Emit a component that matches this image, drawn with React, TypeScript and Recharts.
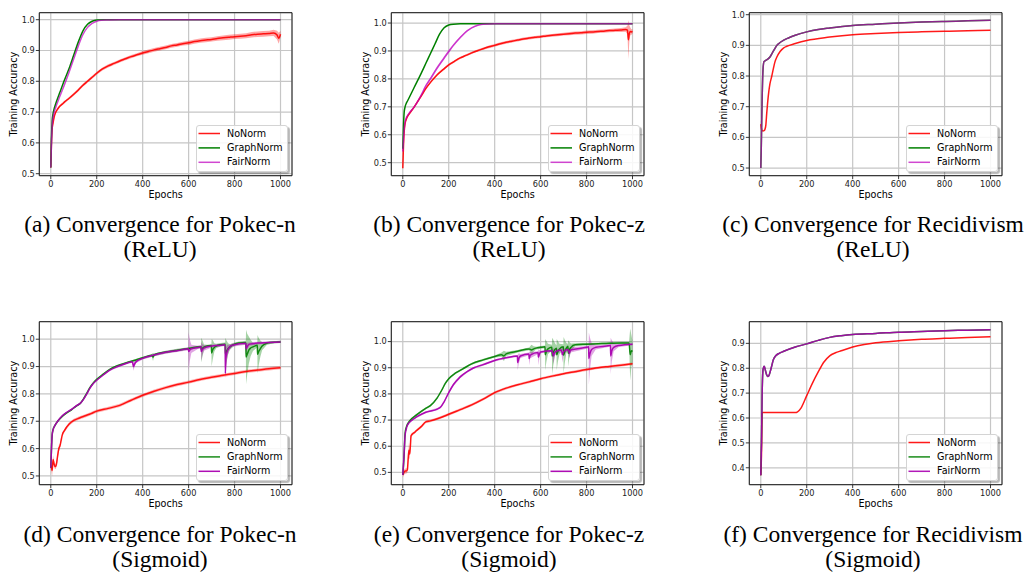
import React from 'react';
import { ComposedChart, Line, Area, XAxis, YAxis, CartesianGrid, ReferenceArea, Legend, Label } from 'recharts';

// ---------------- data ----------------
const xTicks = [0, 200, 400, 600, 800, 1000];
const yTicksHi = [0.5, 0.6, 0.7, 0.8, 0.9, 1.0];
const yTicksLo = [0.4, 0.5, 0.6, 0.7, 0.8, 0.9];
const seriesNames = ['NoNorm', 'GraphNorm', 'FairNorm'];
const captionLine1 = [
  '(a) Convergence for Pokec-n',
  '(b) Convergence for Pokec-z',
  '(c) Convergence for Recidivism',
  '(d) Convergence for Pokec-n',
  '(e) Convergence for Pokec-z',
  '(f) Convergence for Recidivism',
];
const captionLine2 = ['(ReLU)', '(ReLU)', '(ReLU)', '(Sigmoid)', '(Sigmoid)', '(Sigmoid)'];

// (a) Pokec-n ReLU
const aNoX = [0, 3, 6, 10, 15, 20, 30, 40, 50, 60, 80, 100, 120, 140, 160, 180, 200, 225, 250, 275, 300, 325, 350, 375, 400, 425, 450, 475, 500, 525, 550, 575, 600, 625, 650, 675, 700, 725, 750, 775, 800, 825, 850, 875, 900, 925, 950, 970, 985, 992, 1000];
const aNoY = [0.52, 0.6, 0.645, 0.665, 0.685, 0.697, 0.71, 0.72, 0.726, 0.733, 0.745, 0.758, 0.772, 0.787, 0.8, 0.813, 0.826, 0.84, 0.85, 0.858, 0.866, 0.873, 0.88, 0.886, 0.892, 0.897, 0.902, 0.906, 0.91, 0.915, 0.918, 0.922, 0.925, 0.929, 0.932, 0.934, 0.936, 0.939, 0.941, 0.943, 0.945, 0.946, 0.948, 0.951, 0.953, 0.954, 0.955, 0.957, 0.95, 0.94, 0.953];
const aNoW = [0.004, 0.006, 0.006, 0.005, 0.004, 0.004, 0.004, 0.004, 0.004, 0.004, 0.004, 0.005, 0.005, 0.005, 0.005, 0.005, 0.005, 0.005, 0.005, 0.005, 0.005, 0.005, 0.005, 0.005, 0.006, 0.006, 0.006, 0.006, 0.006, 0.006, 0.006, 0.006, 0.007, 0.007, 0.007, 0.007, 0.007, 0.007, 0.008, 0.008, 0.008, 0.008, 0.008, 0.009, 0.009, 0.009, 0.009, 0.01, 0.014, 0.018, 0.01];
const aGraphX = [0, 3, 6, 10, 15, 20, 40, 60, 80, 100, 120, 140, 160, 180, 200, 230, 300, 500, 700, 1000];
const aGraphY = [0.52, 0.62, 0.67, 0.695, 0.712, 0.724, 0.765, 0.805, 0.842, 0.885, 0.928, 0.964, 0.985, 0.995, 0.999, 1.0, 1.0, 1.0, 1.0, 1.0];
const aFairX = [0, 3, 6, 10, 15, 20, 40, 60, 80, 100, 120, 140, 160, 180, 200, 220, 250, 300, 500, 700, 1000];
const aFairY = [0.52, 0.6, 0.655, 0.683, 0.7, 0.712, 0.752, 0.79, 0.83, 0.873, 0.915, 0.952, 0.975, 0.988, 0.995, 0.998, 0.999, 1.0, 1.0, 1.0, 1.0];

// (b) Pokec-z ReLU
const bNoX = [0, 3, 6, 10, 15, 20, 30, 50, 80, 100, 125, 150, 175, 200, 225, 250, 275, 300, 325, 350, 375, 400, 425, 450, 475, 500, 525, 550, 575, 600, 625, 650, 675, 700, 725, 750, 775, 800, 825, 850, 875, 900, 925, 950, 970, 978, 982, 986, 990, 995, 1000];
const bNoY = [0.48, 0.56, 0.61, 0.64, 0.655, 0.665, 0.677, 0.7, 0.738, 0.765, 0.792, 0.815, 0.833, 0.85, 0.863, 0.875, 0.884, 0.893, 0.901, 0.908, 0.915, 0.92, 0.926, 0.931, 0.935, 0.939, 0.943, 0.946, 0.949, 0.951, 0.954, 0.956, 0.958, 0.96, 0.962, 0.964, 0.965, 0.967, 0.968, 0.97, 0.971, 0.973, 0.974, 0.975, 0.977, 0.975, 0.94, 0.962, 0.97, 0.968, 0.97];
const bNoW = [0.006, 0.006, 0.006, 0.005, 0.004, 0.004, 0.004, 0.004, 0.004, 0.004, 0.004, 0.004, 0.004, 0.004, 0.004, 0.004, 0.004, 0.004, 0.004, 0.004, 0.005, 0.005, 0.005, 0.005, 0.005, 0.005, 0.005, 0.005, 0.005, 0.005, 0.005, 0.005, 0.005, 0.005, 0.006, 0.006, 0.006, 0.006, 0.006, 0.006, 0.006, 0.006, 0.006, 0.007, 0.008, 0.015, 0.07, 0.03, 0.015, 0.01, 0.008];
const bGraphX = [0, 3, 6, 10, 15, 20, 50, 80, 100, 120, 140, 160, 180, 200, 220, 250, 400, 600, 800, 1000];
const bGraphY = [0.55, 0.63, 0.68, 0.7, 0.712, 0.72, 0.77, 0.82, 0.855, 0.89, 0.925, 0.96, 0.983, 0.993, 0.996, 0.997, 0.997, 0.997, 0.997, 0.997];
const bFairX = [0, 3, 6, 10, 15, 20, 30, 50, 80, 100, 120, 150, 180, 200, 220, 250, 280, 300, 330, 350, 400, 600, 800, 1000];
const bFairY = [0.54, 0.58, 0.62, 0.645, 0.66, 0.668, 0.68, 0.7, 0.742, 0.775, 0.8, 0.84, 0.875, 0.898, 0.92, 0.948, 0.972, 0.983, 0.993, 0.996, 0.997, 0.997, 0.997, 0.997];
const bFairW = [0.002, 0.002, 0.002, 0.002, 0.002, 0.002, 0.002, 0.003, 0.004, 0.005, 0.006, 0.006, 0.006, 0.006, 0.005, 0.004, 0.003, 0.002, 0.002, 0.001, 0.001, 0.001, 0.001, 0.001];

// (c) Recidivism ReLU
const cNoX = [0, 3, 6, 10, 14, 18, 22, 26, 30, 35, 40, 48, 55, 62, 70, 84, 100, 113, 150, 200, 300, 400, 500, 600, 700, 800, 900, 1000];
const cNoY = [0.643, 0.628, 0.622, 0.621, 0.622, 0.626, 0.64, 0.68, 0.715, 0.75, 0.775, 0.8, 0.825, 0.847, 0.862, 0.88, 0.892, 0.897, 0.906, 0.916, 0.927, 0.935, 0.939, 0.942, 0.944, 0.946, 0.948, 0.949];
const cGraphX = [0, 2, 4, 6, 8, 10, 14, 20, 30, 40, 50, 60, 70, 80, 100, 120, 150, 200, 250, 300, 400, 500, 600, 700, 800, 900, 1000];
const cGraphY = [0.5, 0.56, 0.65, 0.73, 0.79, 0.825, 0.847, 0.85, 0.855, 0.862, 0.875, 0.888, 0.9, 0.907, 0.917, 0.924, 0.933, 0.944, 0.952, 0.957, 0.965, 0.969, 0.973, 0.976, 0.978, 0.98, 0.982];
const cFairX = [0, 2, 4, 6, 8, 10, 14, 20, 30, 40, 50, 60, 70, 80, 100, 120, 150, 200, 250, 300, 400, 500, 600, 700, 800, 900, 1000];
const cFairY = [0.5, 0.56, 0.65, 0.73, 0.79, 0.825, 0.847, 0.85, 0.855, 0.862, 0.875, 0.888, 0.9, 0.907, 0.917, 0.924, 0.933, 0.944, 0.952, 0.957, 0.965, 0.969, 0.973, 0.976, 0.978, 0.98, 0.982];

// (d) Pokec-n Sigmoid
const dNoX = [0, 3, 6, 10, 14, 18, 22, 26, 30, 35, 40, 45, 50, 60, 80, 100, 125, 150, 175, 200, 250, 300, 350, 400, 450, 500, 550, 600, 650, 700, 750, 800, 850, 900, 950, 1000];
const dNoY = [0.537, 0.53, 0.52, 0.56, 0.545, 0.535, 0.535, 0.55, 0.575, 0.6, 0.61, 0.63, 0.65, 0.667, 0.69, 0.703, 0.712, 0.72, 0.728, 0.737, 0.747, 0.758, 0.777, 0.795, 0.81, 0.823, 0.834, 0.843, 0.853, 0.861, 0.868, 0.875, 0.882, 0.887, 0.892, 0.896];
const dNoW = [0.015, 0.015, 0.02, 0.015, 0.012, 0.01, 0.01, 0.01, 0.015, 0.012, 0.008, 0.007, 0.006, 0.006, 0.006, 0.006, 0.006, 0.006, 0.006, 0.006, 0.006, 0.006, 0.006, 0.006, 0.006, 0.006, 0.006, 0.006, 0.006, 0.006, 0.006, 0.006, 0.006, 0.006, 0.006, 0.006];
const dGraphX = [0, 3, 6, 10, 17, 30, 50, 68, 90, 112, 130, 141, 155, 170, 185, 200, 230, 257, 290, 330, 370, 400, 440, 445, 450, 500, 550, 600, 650, 654, 655, 660, 667, 680, 699, 700, 705, 712, 720, 740, 759, 760, 765, 772, 780, 800, 820, 849, 850, 855, 862, 870, 880, 899, 900, 905, 912, 920, 940, 960, 980, 1000];
const dGraphY = [0.53, 0.6, 0.65, 0.67, 0.683, 0.7, 0.718, 0.73, 0.742, 0.756, 0.767, 0.78, 0.8, 0.823, 0.84, 0.853, 0.873, 0.89, 0.903, 0.914, 0.924, 0.932, 0.941, 0.935, 0.943, 0.953, 0.96, 0.966, 0.972, 0.972, 0.96, 0.966, 0.971, 0.975, 0.977, 0.95, 0.962, 0.97, 0.975, 0.98, 0.982, 0.945, 0.955, 0.965, 0.972, 0.982, 0.986, 0.988, 0.935, 0.945, 0.96, 0.968, 0.972, 0.978, 0.945, 0.955, 0.965, 0.975, 0.985, 0.988, 0.989, 0.99];
const dGraphW = [0.003, 0.004, 0.004, 0.003, 0.003, 0.003, 0.003, 0.003, 0.003, 0.003, 0.003, 0.003, 0.003, 0.003, 0.003, 0.003, 0.003, 0.003, 0.004, 0.004, 0.004, 0.004, 0.005, 0.015, 0.005, 0.005, 0.005, 0.005, 0.005, 0.005, 0.045, 0.03, 0.01, 0.005, 0.005, 0.05, 0.035, 0.015, 0.008, 0.006, 0.006, 0.06, 0.04, 0.02, 0.01, 0.006, 0.006, 0.006, 0.1, 0.075, 0.05, 0.03, 0.015, 0.008, 0.07, 0.05, 0.03, 0.015, 0.006, 0.005, 0.004, 0.004];
const dFairX = [0, 3, 6, 10, 17, 30, 50, 68, 90, 112, 130, 141, 155, 170, 185, 200, 230, 257, 290, 330, 355, 360, 365, 372, 400, 450, 500, 550, 599, 600, 605, 612, 640, 654, 655, 660, 667, 700, 740, 759, 760, 762, 768, 775, 790, 849, 850, 856, 865, 900, 950, 1000];
const dFairY = [0.53, 0.6, 0.65, 0.668, 0.683, 0.7, 0.72, 0.732, 0.743, 0.757, 0.767, 0.778, 0.797, 0.82, 0.838, 0.85, 0.87, 0.887, 0.9, 0.912, 0.918, 0.9, 0.91, 0.918, 0.93, 0.942, 0.952, 0.958, 0.965, 0.955, 0.96, 0.965, 0.97, 0.972, 0.955, 0.962, 0.968, 0.975, 0.978, 0.98, 0.875, 0.93, 0.955, 0.968, 0.978, 0.985, 0.965, 0.975, 0.982, 0.986, 0.988, 0.99];
const dFairW = [0.003, 0.004, 0.004, 0.003, 0.003, 0.003, 0.003, 0.003, 0.003, 0.003, 0.003, 0.003, 0.003, 0.003, 0.003, 0.003, 0.003, 0.003, 0.004, 0.004, 0.004, 0.015, 0.01, 0.005, 0.004, 0.004, 0.005, 0.005, 0.005, 0.07, 0.04, 0.015, 0.006, 0.006, 0.035, 0.02, 0.01, 0.005, 0.005, 0.005, 0.02, 0.04, 0.025, 0.012, 0.006, 0.005, 0.02, 0.012, 0.006, 0.005, 0.004, 0.004];

// (e) Pokec-z Sigmoid
const eNoX = [0, 5, 10, 15, 20, 24, 27, 30, 33, 36, 40, 50, 60, 80, 100, 120, 150, 200, 250, 300, 350, 400, 450, 500, 550, 600, 650, 700, 750, 800, 850, 900, 950, 1000];
const eNoY = [0.49, 0.5, 0.505, 0.505, 0.51, 0.56, 0.585, 0.57, 0.6, 0.64, 0.645, 0.652, 0.66, 0.675, 0.693, 0.697, 0.705, 0.722, 0.74, 0.758, 0.78, 0.805, 0.822, 0.835, 0.846, 0.858, 0.868, 0.877, 0.885, 0.893, 0.9, 0.905, 0.91, 0.915];
const eNoW = [0.01, 0.01, 0.01, 0.01, 0.01, 0.02, 0.03, 0.02, 0.015, 0.008, 0.006, 0.005, 0.005, 0.005, 0.005, 0.005, 0.005, 0.005, 0.005, 0.005, 0.005, 0.005, 0.005, 0.005, 0.005, 0.005, 0.005, 0.005, 0.005, 0.005, 0.005, 0.005, 0.005, 0.005];
const eGraphX = [0, 5, 10, 15, 30, 60, 100, 120, 150, 170, 185, 200, 230, 260, 300, 350, 400, 430, 440, 450, 500, 550, 560, 570, 580, 600, 619, 620, 625, 632, 649, 650, 655, 662, 669, 670, 675, 682, 699, 700, 705, 712, 719, 720, 725, 732, 750, 800, 850, 900, 950, 985, 990, 995, 1000];
const eGraphY = [0.49, 0.55, 0.65, 0.672, 0.697, 0.72, 0.745, 0.755, 0.785, 0.815, 0.84, 0.858, 0.88, 0.895, 0.915, 0.93, 0.943, 0.95, 0.945, 0.953, 0.963, 0.972, 0.968, 0.972, 0.975, 0.978, 0.98, 0.95, 0.962, 0.972, 0.978, 0.945, 0.958, 0.97, 0.975, 0.95, 0.962, 0.972, 0.98, 0.948, 0.962, 0.975, 0.982, 0.955, 0.968, 0.978, 0.988, 0.99, 0.992, 0.994, 0.995, 0.995, 0.95, 0.965, 0.962];
const eGraphW = [0.004, 0.004, 0.004, 0.004, 0.004, 0.004, 0.004, 0.004, 0.004, 0.004, 0.004, 0.004, 0.004, 0.004, 0.004, 0.004, 0.004, 0.008, 0.02, 0.008, 0.005, 0.005, 0.02, 0.01, 0.005, 0.005, 0.005, 0.06, 0.04, 0.02, 0.01, 0.07, 0.05, 0.025, 0.01, 0.06, 0.04, 0.02, 0.01, 0.07, 0.045, 0.02, 0.01, 0.05, 0.03, 0.015, 0.006, 0.005, 0.004, 0.004, 0.004, 0.004, 0.1, 0.06, 0.04];
const eFairX = [0, 5, 10, 15, 20, 40, 60, 100, 150, 165, 180, 200, 220, 250, 280, 310, 350, 400, 450, 499, 500, 505, 512, 549, 550, 555, 589, 590, 595, 600, 650, 655, 662, 690, 695, 700, 720, 725, 730, 800, 809, 810, 815, 822, 840, 900, 904, 905, 910, 918, 940, 1000];
const eFairY = [0.49, 0.56, 0.64, 0.665, 0.68, 0.7, 0.712, 0.73, 0.742, 0.75, 0.77, 0.805, 0.835, 0.865, 0.885, 0.9, 0.912, 0.928, 0.938, 0.945, 0.92, 0.935, 0.945, 0.953, 0.935, 0.948, 0.958, 0.94, 0.953, 0.96, 0.965, 0.945, 0.96, 0.968, 0.95, 0.962, 0.97, 0.955, 0.968, 0.978, 0.98, 0.935, 0.955, 0.97, 0.978, 0.985, 0.986, 0.945, 0.965, 0.978, 0.985, 0.99];
const eFairW = [0.004, 0.004, 0.004, 0.004, 0.004, 0.004, 0.004, 0.004, 0.004, 0.004, 0.004, 0.005, 0.006, 0.005, 0.004, 0.004, 0.004, 0.004, 0.004, 0.004, 0.03, 0.02, 0.008, 0.005, 0.025, 0.012, 0.005, 0.03, 0.015, 0.005, 0.005, 0.03, 0.012, 0.005, 0.03, 0.012, 0.005, 0.02, 0.01, 0.005, 0.005, 0.1, 0.06, 0.025, 0.008, 0.005, 0.005, 0.07, 0.04, 0.015, 0.006, 0.004];

// (f) Recidivism Sigmoid
const fNoX = [0, 3, 6, 10, 50, 100, 150, 160, 175, 200, 225, 250, 275, 300, 325, 350, 400, 450, 500, 600, 700, 800, 900, 1000];
const fNoY = [0.37, 0.45, 0.62, 0.622, 0.622, 0.622, 0.622, 0.625, 0.64, 0.69, 0.74, 0.785, 0.825, 0.85, 0.862, 0.87, 0.885, 0.895, 0.902, 0.91, 0.916, 0.92, 0.924, 0.927];
const fGraphX = [0, 3, 6, 10, 15, 20, 25, 30, 35, 45, 55, 65, 80, 100, 150, 200, 250, 300, 350, 400, 500, 600, 700, 800, 900, 1000];
const fGraphY = [0.37, 0.5, 0.7, 0.795, 0.808, 0.792, 0.775, 0.767, 0.77, 0.8, 0.835, 0.85, 0.86, 0.868, 0.885, 0.898, 0.912, 0.924, 0.931, 0.936, 0.94, 0.945, 0.948, 0.951, 0.953, 0.955];
const fFairX = [0, 3, 6, 10, 15, 20, 25, 30, 35, 45, 55, 65, 80, 100, 150, 200, 250, 300, 350, 400, 500, 600, 700, 800, 900, 1000];
const fFairY = [0.37, 0.5, 0.7, 0.795, 0.808, 0.792, 0.775, 0.767, 0.77, 0.8, 0.835, 0.85, 0.86, 0.868, 0.885, 0.898, 0.912, 0.924, 0.931, 0.936, 0.94, 0.945, 0.948, 0.951, 0.953, 0.955];

// ---------------- layout / style ----------------
const PLOT_L = 39.3;
const PLOT_T = 12.7;
const PLOT_W = 252.7;
const PLOT_H = 163;
const SVG_W = 300;
const SVG_H = 204;
const LEG_W = 92;
const LEG_H = 47;
const RED = '#ff0000';
const GREEN = '#008000';
const MAG_TOP = '#bf00bf';
const MAG_BOT = '#aa00b0';
const FONT = "'DejaVu Sans', sans-serif";

type Series = { x: number[]; y: number[]; w?: number[]; color: string; op: number; bandOp: number };

const linePts = (s: Series) => s.x.map((e, i) => ({ epoch: e, v: s.y[i] }));
const bandPts = (s: Series) =>
  s.x.map((e, i) => ({ epoch: e, b: [s.y[i] - (s.w as number[])[i], s.y[i] + (s.w as number[])[i]] }));

const XLab = () => (
  <text x={PLOT_L + PLOT_W / 2} y={PLOT_T + PLOT_H + 22.5} textAnchor="middle" fontFamily={FONT} fontSize={9.6} fill="#000">
    Epochs
  </text>
);
const YLab = () => {
  const cx = PLOT_L - 22;
  const cy = PLOT_T + PLOT_H / 2;
  return (
    <text x={cx} y={cy} transform={`rotate(-90 ${cx} ${cy})`} textAnchor="middle" fontFamily={FONT} fontSize={9.6} fill="#000">
      Training Accuracy
    </text>
  );
};

const LegendBox = ({ colors }: { colors: { c: string; op: number }[] }) => (
  <div
    style={{
      position: 'relative',
      width: LEG_W,
      height: LEG_H,
      boxSizing: 'border-box',
      background: 'rgba(255,255,255,0.85)',
      border: '1px solid #d4d4d4',
      borderRadius: 3,
      boxShadow: '2px 2px 1px rgba(0,0,0,0.28)',
      fontFamily: FONT,
      fontSize: 9.6,
      color: '#000',
    }}
  >
    <svg width={30} height={LEG_H - 2} style={{ position: 'absolute', left: 0, top: 0 }}>
      {seriesNames.map((n, i) => (
        <line key={n} x1={1.5} x2={23} y1={7.5 + i * 14.4} y2={7.5 + i * 14.4} stroke={colors[i].c} strokeOpacity={colors[i].op} strokeWidth={1.5} />
      ))}
    </svg>
    {seriesNames.map((n, i) => (
      <div key={n} style={{ position: 'absolute', left: 30, top: 1.5 + i * 14.4, lineHeight: '12px', whiteSpace: 'nowrap' }}>
        {n}
      </div>
    ))}
  </div>
);

type PanelProps = { left: number; top: number; dom: [number, number]; yTicks: number[]; series: Series[] };

const Panel = ({ left, top, dom, yTicks, series }: PanelProps) => (
  <div style={{ position: 'absolute', left, top, width: SVG_W, height: SVG_H }}>
    <ComposedChart width={SVG_W} height={SVG_H} margin={{ top: PLOT_T, right: SVG_W - PLOT_L - PLOT_W, bottom: 0, left: 0 }}>
      <CartesianGrid stroke="#c6c6c6" strokeWidth={1.2} />
      <XAxis
        dataKey="epoch"
        type="number"
        domain={[-50, 1050]}
        ticks={xTicks}
        allowDataOverflow
        interval={0}
        height={SVG_H - PLOT_T - PLOT_H}
        tickSize={3.5}
        tickMargin={1.5}
        axisLine={false}
        tickLine={{ stroke: '#222', strokeWidth: 0.9 }}
        tick={{ fontSize: 8.2, fill: '#222', fontFamily: FONT }}
      >
        <Label content={XLab} />
      </XAxis>
      <YAxis
        type="number"
        domain={dom}
        ticks={yTicks}
        allowDataOverflow
        interval={0}
        width={PLOT_L}
        tickSize={3.5}
        tickMargin={1}
        axisLine={false}
        tickLine={{ stroke: '#222', strokeWidth: 0.9 }}
        tick={{ fontSize: 8.2, fill: '#222', fontFamily: FONT }}
        tickFormatter={(v: number) => v.toFixed(1)}
      >
        <Label content={YLab} />
      </YAxis>
      {series.map((s, i) =>
        s.w ? (
          <Area
            key={'band' + i}
            data={bandPts(s)}
            dataKey="b"
            type="linear"
            stroke="none"
            fill={s.color}
            fillOpacity={s.bandOp}
            isAnimationActive={false}
            legendType="none"
            activeDot={false}
            dot={false}
          />
        ) : null
      )}
      {series.map((s, i) => (
        <Line
          key={'line' + i}
          data={linePts(s)}
          dataKey="v"
          type="monotone"
          stroke={s.color}
          strokeOpacity={s.op}
          strokeWidth={1.5}
          dot={false}
          activeDot={false}
          isAnimationActive={false}
          legendType="none"
        />
      ))}
      <ReferenceArea x1={-50} x2={1050} y1={dom[0]} y2={dom[1]} fill="none" fillOpacity={0} stroke="#1a1a1a" strokeWidth={1} ifOverflow="visible" />
      <Legend
        layout="vertical"
        align="center"
        verticalAlign="middle"
        wrapperStyle={{ left: 196, top: 125, width: LEG_W, height: LEG_H }}
        content={() => <LegendBox colors={series.map((s) => ({ c: s.color, op: s.op }))} />}
      />
    </ComposedChart>
  </div>
);

const panels: PanelProps[] = [
  {
    left: 0, top: 0, dom: [0.4935, 1.0227], yTicks: yTicksHi,
    series: [
      { x: aNoX, y: aNoY, w: aNoW, color: RED, op: 0.9, bandOp: 0.35 },
      { x: aGraphX, y: aGraphY, color: GREEN, op: 1, bandOp: 0.3 },
      { x: aFairX, y: aFairY, color: MAG_TOP, op: 0.72, bandOp: 0.3 },
    ],
  },
  {
    left: 352, top: 0, dom: [0.4534, 1.037], yTicks: yTicksHi,
    series: [
      { x: bNoX, y: bNoY, w: bNoW, color: RED, op: 0.9, bandOp: 0.35 },
      { x: bGraphX, y: bGraphY, color: GREEN, op: 1, bandOp: 0.3 },
      { x: bFairX, y: bFairY, w: bFairW, color: MAG_TOP, op: 0.72, bandOp: 0.3 },
    ],
  },
  {
    left: 710, top: 0, dom: [0.475, 1.0065], yTicks: yTicksHi,
    series: [
      { x: cNoX, y: cNoY, color: RED, op: 0.9, bandOp: 0.3 },
      { x: cGraphX, y: cGraphY, color: GREEN, op: 1, bandOp: 0.3 },
      { x: cFairX, y: cFairY, color: MAG_TOP, op: 0.72, bandOp: 0.3 },
    ],
  },
  {
    left: 0, top: 309, dom: [0.468, 1.064], yTicks: yTicksHi,
    series: [
      { x: dNoX, y: dNoY, w: dNoW, color: RED, op: 0.9, bandOp: 0.3 },
      { x: dGraphX, y: dGraphY, w: dGraphW, color: GREEN, op: 0.9, bandOp: 0.35 },
      { x: dFairX, y: dFairY, w: dFairW, color: MAG_BOT, op: 0.95, bandOp: 0.35 },
    ],
  },
  {
    left: 352, top: 309, dom: [0.453, 1.076], yTicks: yTicksHi,
    series: [
      { x: eNoX, y: eNoY, w: eNoW, color: RED, op: 0.9, bandOp: 0.3 },
      { x: eGraphX, y: eGraphY, w: eGraphW, color: GREEN, op: 0.9, bandOp: 0.35 },
      { x: eFairX, y: eFairY, w: eFairW, color: MAG_BOT, op: 0.95, bandOp: 0.35 },
    ],
  },
  {
    left: 710, top: 309, dom: [0.332, 0.987], yTicks: yTicksLo,
    series: [
      { x: fNoX, y: fNoY, color: RED, op: 0.9, bandOp: 0.3 },
      { x: fGraphX, y: fGraphY, color: GREEN, op: 0.9, bandOp: 0.3 },
      { x: fFairX, y: fFairY, color: MAG_BOT, op: 0.9, bandOp: 0.3 },
    ],
  },
];

const captionCenters = [160, 509, 873, 160, 509, 873];

export default function App() {
  return (
    <div style={{ position: 'absolute', left: 0, top: 0, width: 1028, height: 573, background: '#fff', overflow: 'hidden' }}>
      {panels.map((p, i) => (
        <Panel key={i} {...p} />
      ))}
      {captionLine1.map((t, i) => (
        <div
          key={'cap' + i}
          style={{
            position: 'absolute',
            left: captionCenters[i] - 200,
            top: i < 3 ? 212.3 : 522.3,
            width: 400,
            textAlign: 'center',
            fontFamily: "'Liberation Serif', 'Times New Roman', serif",
            fontSize: 23.5,
            lineHeight: '25px',
            color: '#000',
            whiteSpace: 'nowrap',
          }}
        >
          <div>{t}</div>
          <div>{captionLine2[i]}</div>
        </div>
      ))}
    </div>
  );
}
